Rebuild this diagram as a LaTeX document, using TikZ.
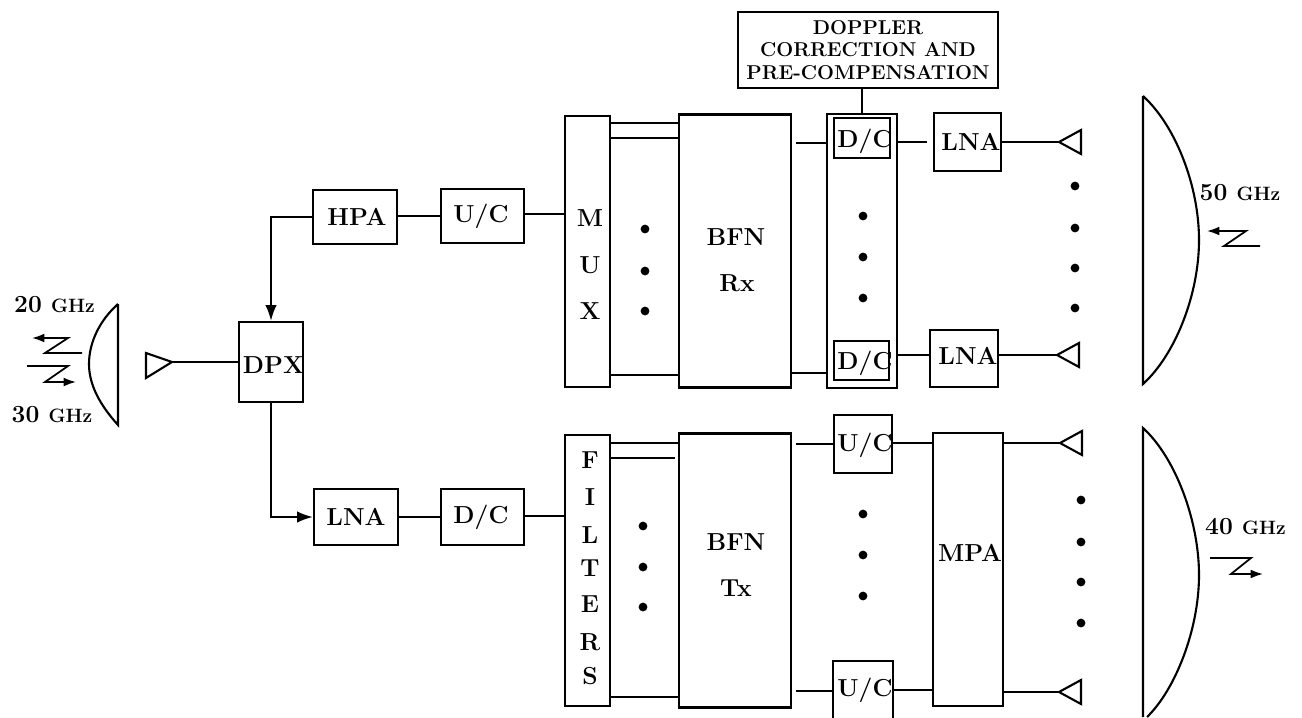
\documentclass[tikz,border=0pt]{standalone}
\usepackage{amsmath}
\usetikzlibrary{arrows.meta, positioning, calc}

\begin{document}
\begin{tikzpicture}[
            x=0.02cm, y=-0.02cm,
            line width=1.2pt,
            blk/.style = {draw, inner sep=0pt},
            sz/.style 2 args = {minimum width=#1*0.02cm, minimum height=#2*0.02cm},
            lbl/.style = {inner sep=0pt, font=\fontsize{14}{16}\selectfont\bfseries},
            ghz/.style = {inner sep=0pt, font=\fontsize{14}{16}\selectfont\bfseries},
            gh/.style = {font=\fontsize{11}{13}\selectfont\bfseries},
            bolt/.style = {-{Latex[length=7pt,width=5pt]}, line width=1pt},
            dot/.style = {circle, fill=black, inner sep=0pt, minimum size=5pt},
            >={Latex[length=9pt,width=6.5pt]}]
            \useasboundingbox (0,0) rectangle (1302,717);
            % left side
            \node[blk,sz={64}{80}] (dpx) at (271,362) {};
            \node[blk,sz={84}{54}] (hpa) at (355,217) {};
            \node[blk,sz={83}{54}] (ucin) at (482.5,216) {};
            \node[blk,sz={84}{56}] (lnain) at (356,517) {};
            \node[blk,sz={83}{56}] (dcin) at (482.5,517) {};
            \node[lbl] at (273.5,365) {DPX};
            \node[lbl] at (357,217) {HPA};
            \node[lbl] at (481,216) {U/C};
            \node[lbl] at (356,517) {LNA};
            \node[lbl] at (481,517) {D/C};
            % beam forming columns
            \node[blk,sz={45}{271}] (mux) at (587.5,251.5) {};
            \node[blk,sz={112}{273}] (bfnrx) at (735,251) {};
            \node[blk,sz={45}{271}] (fil) at (587.5,570.5) {};
            \node[blk,sz={112}{274}] (bfntx) at (735,570.5) {};
            \node[lbl] at (736,237) {BFN};
            \node[lbl] at (737,283) {Rx};
            \node[lbl] at (736,542) {BFN};
            \node[lbl] at (736,588) {Tx};
            \foreach \ch/\yy in {M/218,U/265,X/311}
                \node[lbl] at (590,\yy) {\ch};
            \foreach \ch/\yy in {F/460,I/497,L/535,T/568,E/604,R/642,S/676}
                \node[lbl] at (590,\yy) {\ch};
            \node[blk,sz={260}{76},align=center,font=\fontsize{11.4}{13}\selectfont\bfseries] (dop) at (868,50)
                {DOPPLER\\CORRECTION AND\\PRE-COMPENSATION};
            \node[blk,sz={70}{274}] (dcbox) at (862,251) {};
            \node[blk,sz={56}{40}] (dca) at (862,138) {};
            \node[blk,sz={55}{39}] (dcb) at (861.5,360.5) {};
            \node[blk,sz={67}{58}] (lnaa) at (967.5,142) {};
            \node[blk,sz={68}{57}] (lnab) at (964,358.5) {};
            \node[blk,sz={58}{58}] (uca) at (863,444) {};
            \node[sz={58}{55},inner sep=0pt] (ucb) at (863,689.5) {};
            \node[blk,sz={70}{273}] (mpa) at (968,569.5) {};
            \draw (ucb.south west) -- (ucb.north west) -- (ucb.north east) -- (ucb.south east);
            \node[lbl] at (865,141) {D/C};
            \node[lbl] at (865,363) {D/C};
            \node[lbl] at (971,142) {LNA};
            \node[lbl] at (968,356) {LNA};
            \node[lbl] at (865,445) {U/C};
            \node[lbl] at (865,690) {U/C};
            \node[lbl] at (970,553) {MPA};
            % feeds
            \coordinate (fdl) at (172,362);
            \coordinate (fda) at (1059,142);
            \coordinate (fdb) at (1057,355);
            \coordinate (fdc) at (1060,443);
            \coordinate (fdd) at (1059,692);
            \draw (fdl) -- (146,353) -- (146,378) -- cycle;
            \foreach \fd in {fda,fdb,fdc,fdd}
                \draw (\fd) -- ++(22,-12) -- ++(0,24) -- cycle;
            % connectors
            \draw[->] (hpa.west) -| (dpx.north);
            \draw[->] (dpx.south) |- (lnain.west);
            \draw (fdl) -- (dpx.west |- fdl);
            \draw (hpa.east |- 0,216) -- (ucin.west |- 0,216);
            \draw (lnain.east) -- (dcin.west);
            \draw (ucin.east |- 0,214) -- (mux.west |- 0,214);
            \draw (dcin.east |- 0,516) -- (fil.west |- 0,516);
            \foreach \yy in {123,138,375}
                \draw (mux.east |- 0,\yy) -- (bfnrx.west |- 0,\yy);
            \foreach \yy in {443,697}
                \draw (fil.east |- 0,\yy) -- (bfntx.west |- 0,\yy);
            \draw (fil.east |- 0,458) -- (675,458);
            \draw (796,143) -- (dcbox.west |- 0,143);
            \draw (bfnrx.east |- 0,373) -- (dcbox.west |- 0,373);
            \draw (dcbox.east |- 0,142) -- (927,142);
            \draw (dcbox.east |- 0,355) -- (lnab.west |- 0,355);
            \draw (lnaa.east |- fda) -- (fda);
            \draw (lnab.east |- fdb) -- (fdb);
            \draw (796,444) -- (uca.west |- 0,444);
            \draw (796,691) -- (ucb.west |- 0,691);
            \draw (uca.east |- 0,443) -- (mpa.west |- 0,443);
            \draw (ucb.east |- 0,690) -- (mpa.west |- 0,690);
            \draw (mpa.east |- fdc) -- (fdc);
            \draw (mpa.east |- fdd) -- (fdd);
            \draw (dop.south -| dcbox.north) -- (dcbox.north);
            % dots
            \foreach \yy in {229,271,311} \node[dot] at (645,\yy) {};
            \foreach \yy in {526,567,607} \node[dot] at (643,\yy) {};
            \foreach \yy in {216,257,298} \node[dot] at (863,\yy) {};
            \foreach \yy in {514,555,596} \node[dot] at (863,\yy) {};
            \foreach \yy in {186,228,268,308} \node[dot] at (1075,\yy) {};
            \foreach \yy in {500,542,582,623} \node[dot] at (1081,\yy) {};
            % reflectors
            \draw (118,304) -- (118,425) .. controls (100,405) and (89,385) .. (89,364)
                .. controls (89,342) and (100,320) .. (118,304);
            \draw (1143,96) -- (1143,384) .. controls (1175,355) and (1199,295) .. (1199,240)
                .. controls (1199,185) and (1175,125) .. (1143,96);
            \draw (1143,717) -- (1143,428) .. controls (1175,457) and (1199,520) .. (1199,575)
                .. controls (1199,630) and (1175,690) .. (1147,717);
            % links
            \draw[bolt] (82,353) -- (45,353) -- (68,338) -- (32,338);
            \draw[bolt] (27,366) -- (68,366) -- (45,382) -- (76,382);
            \draw[bolt] (1260,246) -- (1224,246) -- (1246,231) -- (1207,231);
            \draw[bolt] (1210,558) -- (1251,558) -- (1231,574) -- (1263,574);
            \node[ghz] (fa) at (54.5,305) {20 {\fontsize{11}{13}\selectfont GHz}};
            \node[ghz] (fb) at (52,415) {30 {\fontsize{11}{13}\selectfont GHz}};
            \node[ghz] (fc) at (1240,193) {50 {\fontsize{11}{13}\selectfont GHz}};
            \node[ghz] (fd) at (1245.5,527) {40 {\fontsize{11}{13}\selectfont GHz}};
        \end{tikzpicture}
\end{document}
